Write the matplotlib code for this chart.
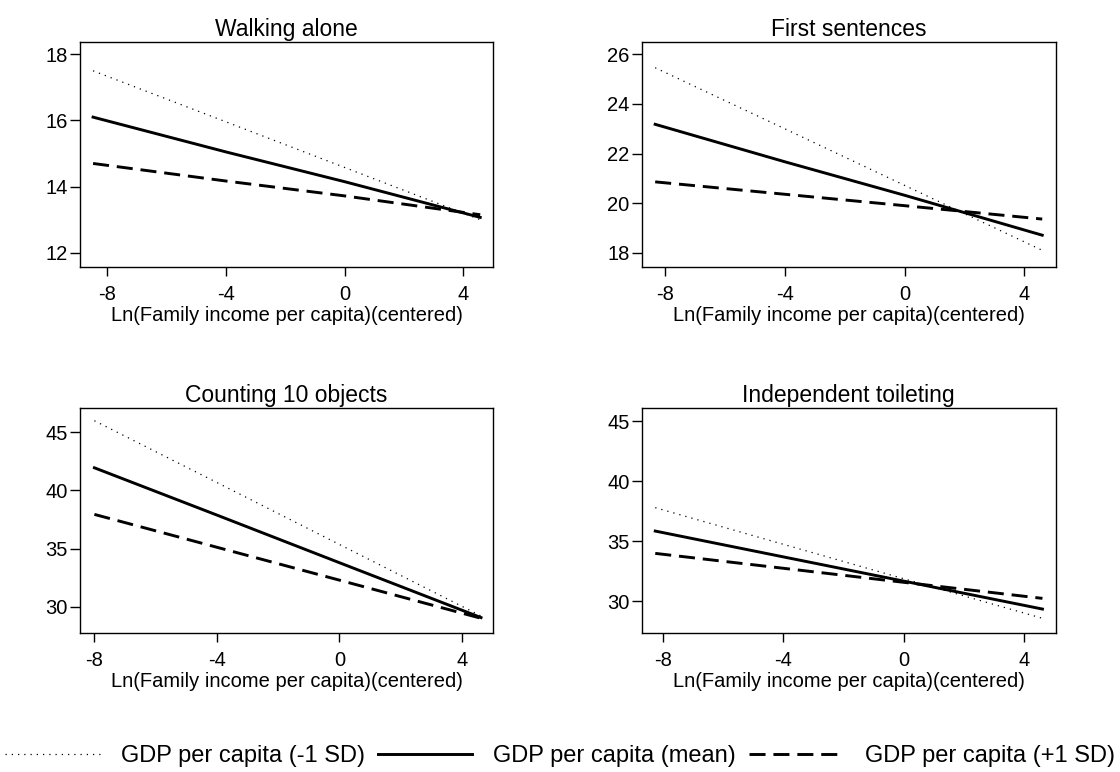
import matplotlib
matplotlib.use("Agg")
import matplotlib.pyplot as plt

plt.rcParams["font.family"] = ["Liberation Sans", "DejaVu Sans"]
plt.rcParams["axes.unicode_minus"] = False

titles = ["Walking alone", "First sentences", "Counting 10 objects", "Independent toileting"]
xlabel = "Ln(Family income per capita)(centered)"
series_labels = ["GDP per capita (-1 SD)", "GDP per capita (mean)", "GDP per capita (+1 SD)"]

# income points per panel
x_walk = [-8.47, -4, 0, 4.57]
x_sent = [-8.33, -4, 0, 4.6]
x_count = [-8.0, -4, 0, 4.62]
x_toilet = [-8.25, -4, 0, 4.61]

# predicted ages: low GDP, mean GDP, high GDP
walk_low = [17.5, 15.96, 14.58, 13.0]
walk_mean = [16.1, 15.05, 14.15, 13.07]
walk_high = [14.7, 14.17, 13.72, 13.15]

sent_low = [25.46, 23.0, 20.72, 18.1]
sent_mean = [23.18, 21.67, 20.32, 18.71]
sent_high = [20.86, 20.36, 19.9, 19.36]

count_low = [46.0, 40.68, 35.35, 29.2]
count_mean = [41.95, 37.88, 33.78, 29.06]
count_high = [37.94, 35.11, 32.28, 29.0]

toilet_low = [37.78, 34.73, 31.86, 28.56]
toilet_mean = [35.83, 33.68, 31.66, 29.33]
toilet_high = [33.97, 32.73, 31.56, 30.22]

panels = [
    (x_walk, walk_low, walk_mean, walk_high, (-8.91, 5.01), (11.58, 18.38), [12, 14, 16, 18]),
    (x_sent, sent_low, sent_mean, sent_high, (-8.78, 5.05), (17.44, 26.51), [18, 20, 22, 24, 26]),
    (x_count, count_low, count_mean, count_high, (-8.47, 5.02), (27.76, 47.12), [30, 35, 40, 45]),
    (x_toilet, toilet_low, toilet_mean, toilet_high, (-8.70, 5.05), (27.36, 46.11), [30, 35, 40, 45]),
]

W, H = 1120, 772
fig = plt.figure(figsize=(W / 100, H / 100), dpi=100)

boxes = [
    (80, 41.7, 493.3, 266.7),
    (641.7, 41.7, 1055.7, 266.7),
    (80, 407.7, 493.3, 632.7),
    (641.7, 407.7, 1055.7, 632.7),
]

styles = [
    dict(color="black", lw=0.9, linestyle=(0, (1, 4))),
    dict(color="black", lw=2.1, linestyle="-"),
    dict(color="black", lw=2.1, linestyle=(0, (5.5, 2.7))),
]

handles = []
for i, (title, panel, box) in enumerate(zip(titles, panels, boxes)):
    x, lo, mid, hi, xlim, ylim, yticks = panel
    l, t, r, b = box
    ax = fig.add_axes([l / W, 1 - b / H, (r - l) / W, (b - t) / H])
    h = []
    for ys, st in zip([lo, mid, hi], styles):
        (ln,) = ax.plot(x, ys, **st)
        h.append(ln)
    if i == 0:
        handles = h
    ax.set_xlim(*xlim)
    ax.set_ylim(*ylim)
    ax.set_xticks([-8, -4, 0, 4])
    ax.set_yticks(yticks)
    ax.tick_params(direction="out", width=1, labelsize=14.5, colors="black")
    ax.tick_params(axis="x", length=6.5, pad=6.5)
    ax.tick_params(axis="y", length=7.5, pad=1.2)
    for sp in ax.spines.values():
        sp.set_linewidth(1.0)
    ax.set_title(title, fontsize=16.5, pad=4)
    ax.set_xlabel(xlabel, fontsize=14.5, labelpad=1.5)

fig.legend(handles, series_labels, loc="center", bbox_to_anchor=(0.5, 1 - 756 / H),
           ncol=3, frameon=False, fontsize=17, handlelength=4.0, handletextpad=0.9,
           columnspacing=0.55, borderaxespad=0, borderpad=0)

fig.savefig("out.png", dpi=100)
